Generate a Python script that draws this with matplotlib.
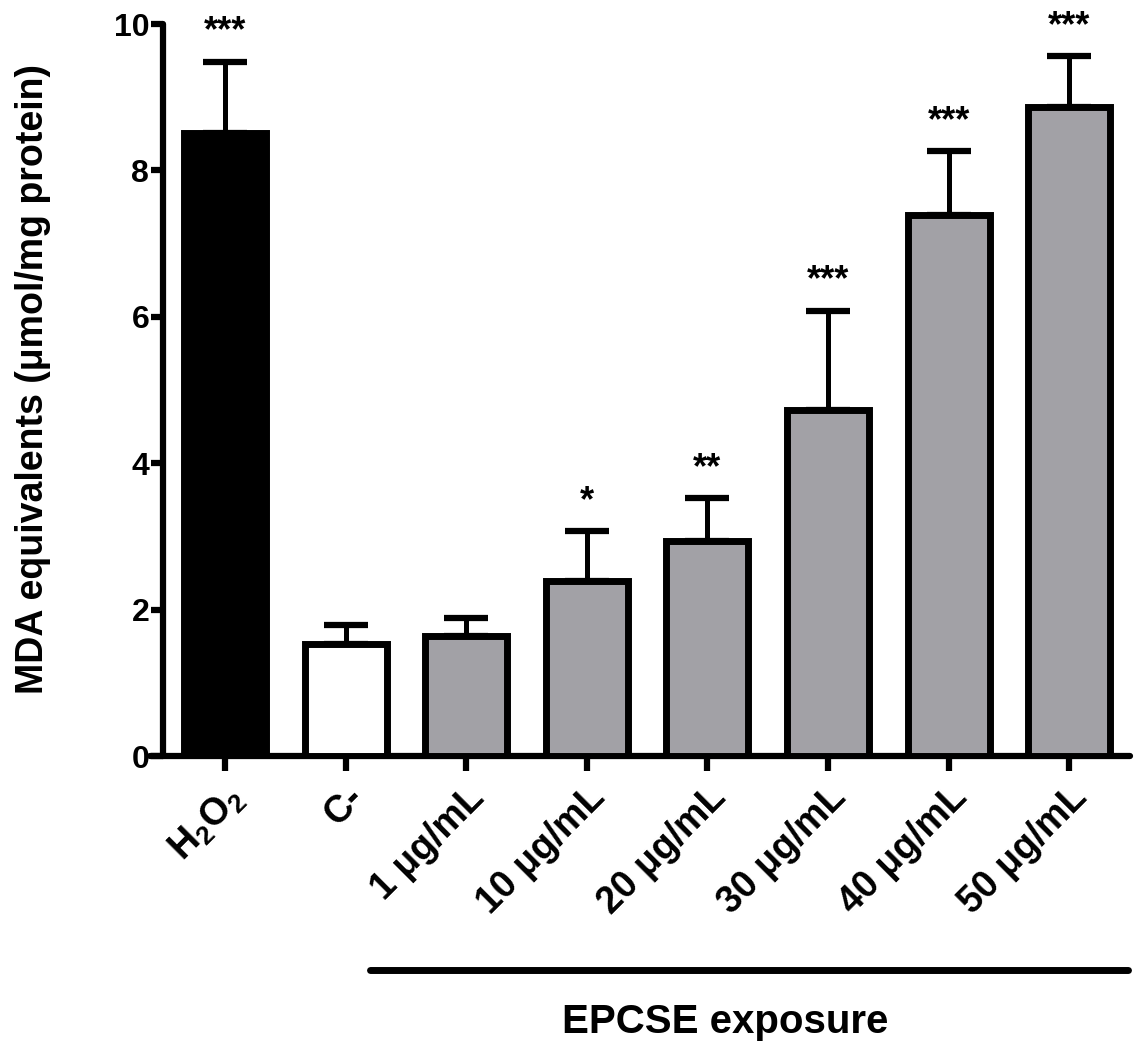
import numpy as np
import matplotlib.pyplot as plt

plt.rcParams.update({
    "font.family": "Liberation Sans",
    "font.weight": "bold",
    "mathtext.fontset": "custom",
    "mathtext.rm": "Liberation Sans:bold",
    "mathtext.it": "Liberation Sans:bold",
    "mathtext.bf": "Liberation Sans:bold",
})

# data
groups = ["H$_2$O$_2$", "C-", "1 μg/mL", "10 μg/mL", "20 μg/mL",
          "30 μg/mL", "40 μg/mL", "50 μg/mL"]
means = [8.51, 1.53, 1.64, 2.39, 2.94, 4.73, 7.39, 8.87]
err_up = [0.97, 0.26, 0.25, 0.68, 0.58, 1.35, 0.87, 0.69]
stars = ["***", "", "", "*", "**", "***", "***", "***"]
fills = ["black", "white", "#a2a1a6", "#a2a1a6", "#a2a1a6",
         "#a2a1a6", "#a2a1a6", "#a2a1a6"]

fig = plt.figure(figsize=(11.36, 10.59), dpi=100)
ax = fig.add_axes([150/1136, 1 - 756/1059, 980/1136, 732/1059])

x = np.arange(len(groups))
ax.bar(x, means, width=0.68, color=fills, edgecolor="black", linewidth=5, zorder=3)
ax.errorbar(x, means, yerr=[np.zeros(len(means)), err_up], fmt="none",
            ecolor="black", elinewidth=3.6, capsize=16, capthick=4.5, zorder=2)

for xi, m, e, s in zip(x, means, err_up, stars):
    if s:
        ax.text(xi, m + e + 0.17, s, ha="center", va="bottom", fontsize=26,
                fontweight="bold")

ax.set_xlim(-0.622, 7.504)
ax.set_ylim(0, 10)
ax.spines["left"].set_position(("data", -0.514))
ax.spines["top"].set_visible(False)
ax.spines["right"].set_visible(False)
for sp in ["left", "bottom"]:
    ax.spines[sp].set_linewidth(4.5)
    ax.spines[sp].set_capstyle("round")

ax.set_yticks([0, 2, 4, 6, 8, 10])
ax.tick_params(axis="y", direction="out", length=9, width=4.5, labelsize=23, pad=1)
ax.tick_params(axis="x", direction="out", length=11, width=4.5, labelsize=27, pad=6)
ax.set_xticks(x)
ax.set_xticklabels(groups, rotation=45, ha="right", rotation_mode="anchor")

ax.set_ylabel("MDA equivalents (μmol/mg protein)", fontsize=27, fontweight="bold")
ax.yaxis.set_label_coords(-0.101, 0.515)

# bracket line and group label under the EPCSE bars
ax.plot([1.20, 7.49], [-2.92, -2.92], color="black", lw=5,
        solid_capstyle="round", clip_on=False)
ax.text(4.15, -3.63, "EPCSE exposure", ha="center", va="center",
        fontsize=29, fontweight="bold")

fig.savefig("out.png", dpi=100)
